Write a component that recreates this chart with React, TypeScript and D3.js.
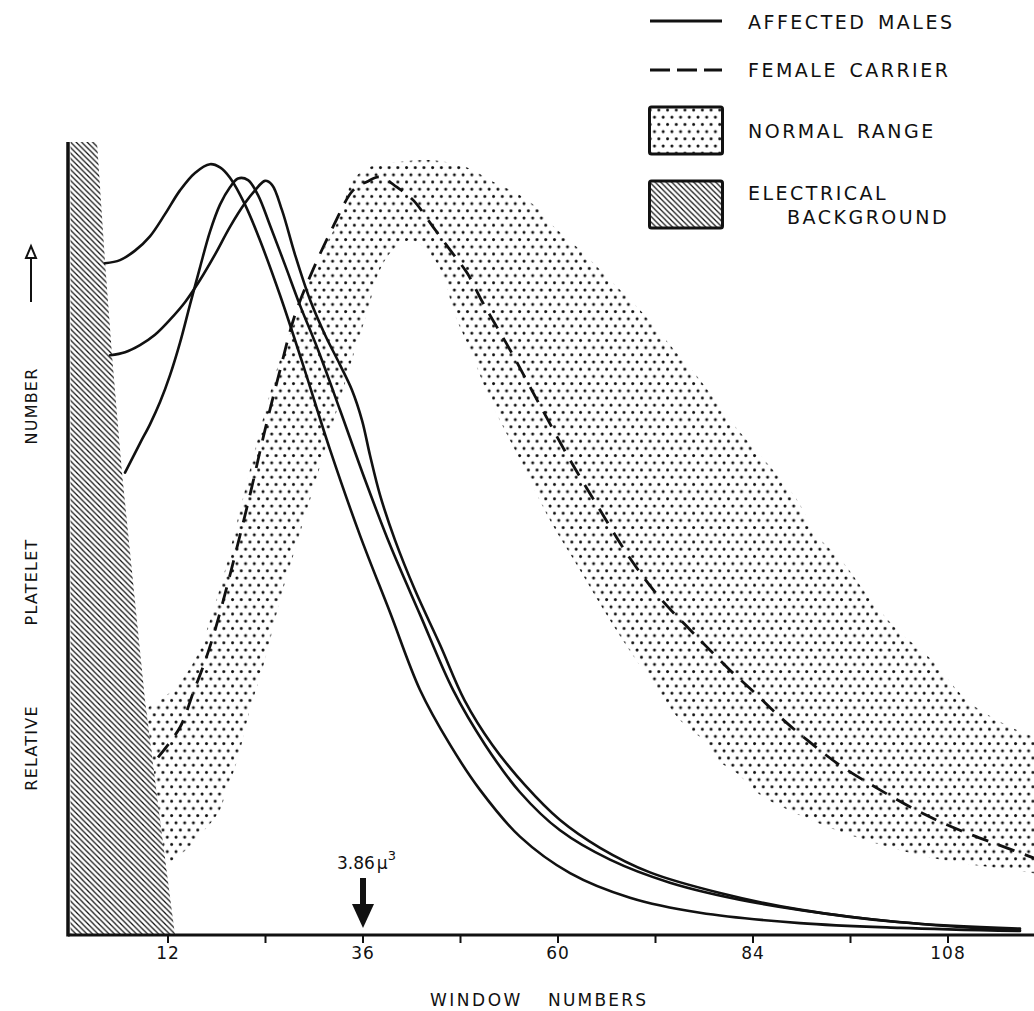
import React from 'react';
import * as d3 from 'd3';

type Pt = [number, number];

// window number, relative platelet number (0-100)
const affectedA: Pt[] = [
  [4.25, 84.7], [6.09, 85.1], [7.94, 86.3], [9.78, 88.1], [11.63, 90.9], [13.48, 93.9], [15.32, 96.1],
  [17.17, 97.2], [18.4, 96.8], [19.63, 95.5], [21.48, 92.1], [23.32, 87.6], [25.78, 80.7], [28.62, 71.9],
  [31.94, 61.2], [35.63, 50.4], [39.32, 40.7], [43.02, 30.9], [46.71, 24.0], [50.4, 18.3], [55.32, 12.4],
  [61.48, 7.8], [68.86, 4.7], [77.48, 2.8], [89.78, 1.5], [102.09, 0.9], [116.86, 0.5],
];
const affectedB: Pt[] = [
  [4.86, 73.1], [6.71, 73.5], [8.55, 74.4], [10.4, 75.7], [12.25, 77.6], [14.09, 79.8], [15.94, 82.6],
  [17.78, 85.8], [19.63, 89.3], [21.48, 92.3], [22.71, 93.9], [23.94, 95.1], [24.8, 94.6], [26.03, 91.4],
  [27.63, 85.8], [29.48, 80.1], [31.32, 75.7], [33.17, 71.9], [34.65, 68.7], [35.88, 64.9], [36.86, 60.5],
  [38.09, 55.5], [39.94, 49.8], [42.4, 43.5], [45.48, 36.6], [48.5, 29.6], [51.9, 24.0], [55.94, 18.9],
  [60.25, 14.5], [65.17, 11.0], [71.32, 7.9], [79.94, 5.3], [89.78, 3.2], [102.09, 1.6], [116.86, 0.8],
];
const affectedC: Pt[] = [
  [6.71, 58.3], [8.55, 62.0], [9.78, 64.4], [11.02, 67.2], [12.25, 70.6], [13.48, 74.7], [14.71, 79.5],
  [15.94, 84.2], [17.17, 88.7], [18.4, 92.1], [19.63, 94.3], [20.62, 95.4], [21.85, 95.2], [23.08, 93.3],
  [24.55, 89.5], [26.4, 84.5], [28.25, 79.4], [30.46, 73.8], [33.17, 66.2], [36.25, 57.4], [39.32, 49.2],
  [43.02, 40.4], [47.08, 30.9], [51.02, 24.0], [55.32, 18.0], [60.25, 13.2], [66.4, 9.5], [73.78, 6.6],
  [83.63, 4.2], [95.94, 2.3], [108.25, 1.1], [116.86, 0.6],
];
const femaleCarrier: Pt[] = [
  [10.77, 22.4], [13.48, 26.2], [15.08, 30.5], [16.31, 33.8], [17.54, 37.6], [18.65, 41.6],
  [20.25, 47.9], [22.09, 55.5], [23.94, 63.7], [25.78, 71.2], [27.63, 78.2], [29.85, 83.9], [32.31, 89.3],
  [34.77, 93.9], [36.49, 95.0], [38.09, 95.6], [40.18, 94.3], [42.15, 92.7], [44.62, 89.3], [46.71, 86.4],
  [48.8, 83.5], [50.77, 79.7], [54.09, 73.8], [57.78, 66.8], [61.48, 59.9], [65.17, 53.6], [68.86, 47.5],
  [72.55, 42.5], [76.25, 38.5], [78.34, 36.3], [81.17, 33.4], [84.25, 30.5], [87.32, 27.5], [90.65, 24.6],
  [94.71, 21.4], [99.63, 18.3], [104.55, 15.5], [109.48, 13.2], [114.4, 11.3], [118.58, 9.7],
];
const normalUpper: Pt[] = [
  [9.42, 28.4], [11.02, 29.6], [13.11, 31.4], [15.57, 35.2], [17.17, 39.7], [19.02, 46.0], [20.86, 53.6],
  [22.71, 61.2], [24.55, 68.3], [25.78, 72.5], [27.38, 76.7], [29.11, 81.7], [30.71, 85.5], [32.8, 89.8],
  [33.78, 92.7], [34.77, 95.2], [36.49, 96.7], [40.55, 97.5], [44.62, 97.7], [48.8, 96.8], [52.0, 95.0],
  [55.32, 93.3], [57.42, 91.7], [59.02, 89.8], [62.71, 86.4], [66.4, 82.6], [70.09, 78.8], [73.78, 74.4],
  [77.48, 70.0], [81.17, 64.9], [84.86, 60.5], [89.42, 54.9], [91.63, 50.7], [95.08, 47.0], [98.03, 42.9],
  [101.72, 38.5], [105.78, 34.9], [110.34, 29.6], [114.4, 26.9], [118.58, 25.0], [121, 24.4],
];
const normalLower: Pt[] = [
  [121, 7.7], [118.58, 7.8], [114.4, 8.4], [108.25, 9.3], [102.09, 10.7], [95.94, 12.6], [89.78, 15.1],
  [84.86, 17.7], [82.03, 20.4], [79.57, 22.1], [78.34, 24.2], [75.38, 26.7], [70.09, 34.0], [66.4, 39.7],
  [62.71, 46.0], [59.02, 52.3], [55.32, 59.9], [51.63, 67.5], [49.17, 73.8], [47.08, 78.8], [46.34, 81.7],
  [45.11, 84.7], [43.38, 86.8], [41.78, 87.6], [39.69, 86.4], [38.09, 83.9], [36.49, 78.4], [35.02, 73.8],
  [33.17, 67.5], [31.32, 61.2], [29.48, 54.9], [27.63, 48.6], [25.78, 42.2], [23.94, 34.7], [22.09, 28.4],
  [20.86, 23.3], [20.0, 20.4], [19.26, 18.7], [18.4, 15.8], [15.94, 12.6], [13.48, 10.1], [11.63, 9.2],
  [10.4, 14.5],
];
const electricalBackground: Pt[] = [
  [0, 100], [3.26, 100], [4.25, 84.9], [5.11, 73.1], [6.34, 58.3], [9.17, 29.6], [11.02, 14.5], [12.86, 0], [0, 0],
];

const tickValues = [12, 24, 36, 48, 60, 72, 84, 96, 108];
const tickLabels = [12, 36, 60, 84, 108];
const markerWindow = 36;
const markerLabel = '3.86';
const yLabelWords = ['RELATIVE', 'PLATELET', 'NUMBER'];
const legendLabels = ['AFFECTED MALES', 'FEMALE CARRIER', 'NORMAL RANGE', 'ELECTRICAL', 'BACKGROUND'];

const FONT = '"DejaVu Sans", sans-serif';

export default function App() {
  const x = d3.scaleLinear().domain([0, 120]).range([70.5, 1045.5]);
  const y = d3.scaleLinear().domain([0, 100]).range([935, 142]);
  const line = d3.line<Pt>().x(d => x(d[0])).y(d => y(d[1])).curve(d3.curveCatmullRom.alpha(0.5));
  const bandPath = d3.line<Pt>().x(d => x(d[0])).y(d => y(d[1])).curve(d3.curveCatmullRomClosed.alpha(0.5))(
    [...normalUpper, ...normalLower]
  ) as string;
  const hatchPath = d3.line<Pt>().x(d => x(d[0])).y(d => y(d[1])).curve(d3.curveLinearClosed)(electricalBackground) as string;
  const base = y(0);
  const x0 = x(0) - 2.5;
  const mx = x(markerWindow);

  const yLabelCenters = [748, 582, 406];

  return (
    <svg width={1034} height={1011} style={{ position: 'absolute', left: 0, top: 0, background: '#fff' }}
      fontFamily={FONT}>
      <defs>
        <pattern id="dots" width={8.7} height={14.4} patternUnits="userSpaceOnUse">
          <circle cx={2} cy={2} r={1.5} fill="#111" />
          <circle cx={6.35} cy={9.2} r={1.5} fill="#111" />
        </pattern>
        <pattern id="hatch" width={5.5} height={5.5} patternUnits="userSpaceOnUse">
          <rect width={5.5} height={5.5} fill="#fff" />
          <path d="M-1,-1 L6.5,6.5 M-1,4.5 L1,6.5 M4.5,-1 L6.5,1" stroke="#111" strokeWidth={1.25} />
        </pattern>
      </defs>

      {/* normal range band */}
      <path d={bandPath} fill="url(#dots)" stroke="none" />
      {/* electrical background */}
      <path d={hatchPath} fill="url(#hatch)" stroke="none" />

      {/* curves */}
      {[affectedA, affectedB, affectedC].map((s, i) => (
        <path key={i} d={line(s) as string} fill="none" stroke="#111" strokeWidth={2.6} strokeLinecap="round" />
      ))}
      <path d={line(femaleCarrier) as string} fill="none" stroke="#111" strokeWidth={2.8} strokeDasharray="17 11" />

      {/* axes */}
      <line x1={x0} x2={1034} y1={base} y2={base} stroke="#111" strokeWidth={3} />
      <line x1={x0} x2={x0} y1={y(100)} y2={base + 1.5} stroke="#111" strokeWidth={3.5} />
      {tickValues.map(t => (
        <line key={t} x1={x(t)} x2={x(t)} y1={base} y2={base + 8} stroke="#111" strokeWidth={2} />
      ))}
      {tickLabels.map(t => (
        <text key={t} x={x(t)} y={base + 24} textAnchor="middle" fontSize={17} letterSpacing={1} fill="#111">{t}</text>
      ))}
      <text x={430} y={1006} fontSize={17} letterSpacing={2.5} fill="#111">WINDOW</text>
      <text x={548} y={1006} fontSize={17} letterSpacing={2.2} fill="#111">NUMBERS</text>

      {/* marker arrow */}
      <rect x={mx - 3} y={base - 57} width={6} height={28} fill="#111" />
      <path d={`M${mx - 11},${base - 31} L${mx + 11},${base - 31} L${mx},${base - 7} Z`} fill="#111" />
      <text x={337} y={base - 66} fontSize={17} fill="#111">
        {markerLabel}
        <tspan dx={2}>µ</tspan>
        <tspan fontSize={13} dy={-9}>3</tspan>
      </text>

      {/* y label */}
      {yLabelWords.map((w, i) => (
        <text key={w} transform={`translate(37,${yLabelCenters[i]}) rotate(-90)`} textAnchor="middle"
          fontSize={16} letterSpacing={1.2} fill="#111">{w}</text>
      ))}
      <line x1={31} x2={31} y1={302} y2={256} stroke="#111" strokeWidth={2} />
      <path d="M26,258 L31,246 L36,258 Z" fill="#fff" stroke="#111" strokeWidth={2} />

      {/* legend */}
      <line x1={650} x2={722} y1={21} y2={21} stroke="#111" strokeWidth={3} />
      <line x1={650} x2={722} y1={70} y2={70} stroke="#111" strokeWidth={3} strokeDasharray="20 7" />
      <rect x={649.5} y={107} width={73} height={47} rx={2} fill="url(#dots)" stroke="#111" strokeWidth={3} />
      <rect x={649.5} y={181} width={73} height={47} rx={2} fill="url(#hatch)" stroke="#111" strokeWidth={3} />
      <text x={748} y={29} fontSize={19} letterSpacing={2.5} wordSpacing={3} fill="#111">{legendLabels[0]}</text>
      <text x={748} y={77} fontSize={19} letterSpacing={2.5} wordSpacing={3} fill="#111">{legendLabels[1]}</text>
      <text x={748} y={138} fontSize={19} letterSpacing={2.5} wordSpacing={3} fill="#111">{legendLabels[2]}</text>
      <text x={748} y={200} fontSize={19} letterSpacing={2.5} fill="#111">{legendLabels[3]}</text>
      <text x={787} y={224} fontSize={19} letterSpacing={2.5} fill="#111">{legendLabels[4]}</text>
    </svg>
  );
}
